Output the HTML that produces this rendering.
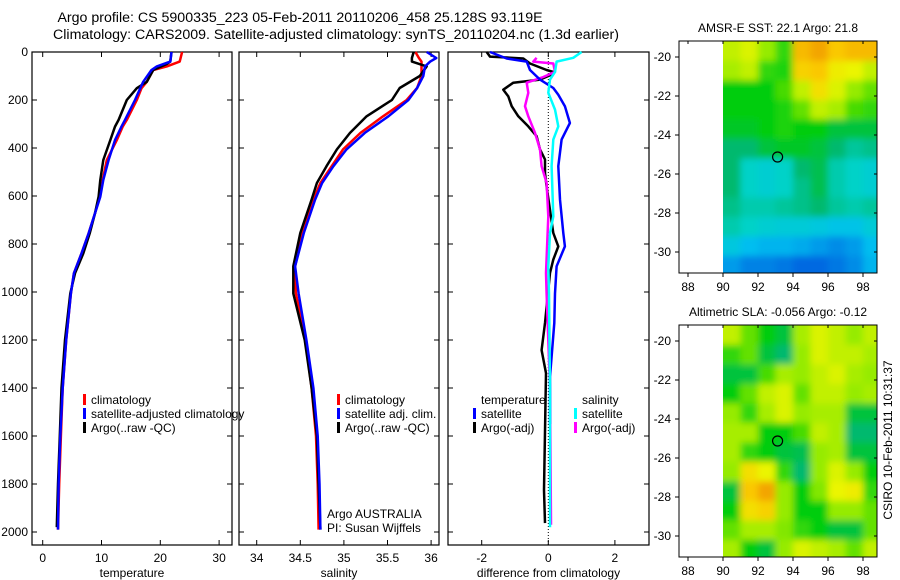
<!DOCTYPE html>
<html><head><meta charset="utf-8">
<style>
html,body{margin:0;padding:0;background:#fff;}
svg{display:block;font-family:"Liberation Sans",sans-serif;}
</style></head>
<body>
<svg id="fig" width="900" height="580" viewBox="0 0 900 580" xmlns="http://www.w3.org/2000/svg">
<defs><filter id="blur" x="-10%" y="-10%" width="120%" height="120%"><feGaussianBlur stdDeviation="3.5"/></filter></defs>
<text x="300" y="22" font-size="14.2" text-anchor="middle">Argo profile: CS 5900335_223 05-Feb-2011 20110206_458 25.128S 93.119E</text>
<text x="336" y="39" font-size="14.2" text-anchor="middle">Climatology: CARS2009. Satellite-adjusted climatology: synTS_20110204.nc (1.3d earlier)</text>
<text x="778" y="32" font-size="12" text-anchor="middle">AMSR-E SST: 22.1 Argo: 21.8</text>
<text x="778" y="316" font-size="12" text-anchor="middle">Altimetric SLA: -0.056 Argo: -0.12</text>
<text x="0" y="0" font-size="12" text-anchor="middle" transform="translate(892,440) rotate(-90)">CSIRO 10-Feb-2011 10:31:37</text>
<g id="plots"></g>
</svg>
<script>
// ---- depth profile data ----
const tDepthArgo = [0,19,40,50,75,124,151,200,283,311,367,450,533,603,672,756,839,922,1006,1200,1400,1600,1800,1980];
const tArgo      = [21.9,21.8,21.7,21.1,18.8,17.7,16.0,14.3,12.9,12.3,11.5,10.3,9.8,9.5,8.9,8.0,6.9,5.5,4.7,3.8,3.2,2.9,2.6,2.4];
const tDepthClim = [0,20,40,60,75,124,151,200,283,311,367,450,533,603,672,756,839,922,1006,1200,1400,1600,1800,1990];
const tClim      = [23.7,23.5,23.3,21.1,18.8,17.7,16.8,16.0,14.3,13.6,12.6,10.9,10.2,9.7,8.9,7.8,6.6,5.3,4.8,4.0,3.4,3.1,2.8,2.6];
const tSat       = [21.9,21.8,21.7,19.4,18.5,17.1,16.6,15.7,14.0,13.4,12.3,11.2,10.3,9.8,8.9,7.8,6.6,5.3,4.8,4.0,3.4,3.0,2.7,2.6];
const sDepth     = [0,25,40,60,100,150,200,268,337,406,476,546,615,754,893,1006,1200,1400,1600,1800,1990];
const sArgo      = [35.80,35.78,35.78,35.95,35.87,35.64,35.55,35.26,35.07,34.92,34.80,34.69,34.63,34.50,34.42,34.42,34.55,34.63,34.69,34.71,34.73];
const sClim      = [35.82,35.86,35.89,35.89,35.89,35.84,35.72,35.45,35.19,34.99,34.86,34.73,34.65,34.52,34.44,34.45,34.56,34.63,34.68,34.70,34.71];
const sSat       = [35.95,36.06,35.99,35.93,35.91,35.84,35.74,35.51,35.24,35.03,34.88,34.75,34.67,34.54,34.44,34.48,34.57,34.65,34.70,34.72,34.73];
const dDepthTS   = [0,27,40,75,115,150,178,226,296,337,365,476,615,754,810,893,1006,1129,1270,1353,1550];
const dTempSat   = [-1.75,-1.25,-0.65,-0.55,-0.25,0.15,0.3,0.5,0.65,0.5,0.4,0.3,0.35,0.45,0.5,0.25,0.2,0.18,0.1,0.05,0.05];
const dDepthTA   = [0,19,27,48,75,83,94,115,128,157,185,226,268,310,351,406,448,504,560,754,810,865,921,1129,1242,1338,1825,1963];
const dTempArgo  = [-1.85,-1.75,-0.75,-0.55,-0.05,0.15,0.1,-0.25,-1.05,-1.35,-1.2,-1.1,-0.9,-0.6,-0.35,-0.25,-0.1,-0.1,-0.05,0.15,0.3,0.15,0.05,-0.1,-0.2,-0.07,-0.13,-0.1];
const dDepthSA   = [24,40,48,83,104,128,170,226,268,337,406,476,546,685,921,1006,1400,1970];
const dSalArgo   = [-0.35,-0.45,0.15,0.2,-0.15,-0.65,-0.6,-0.7,-0.6,-0.4,-0.25,-0.2,-0.05,0.0,-0.07,-0.05,0.05,0.08];
const dDepthSS   = [0,24,40,83,115,170,240,310,365,476,685,754,893,1006,1400,1980];
const dSalSat    = [1.0,0.75,0.25,0.2,0.05,0.0,0.2,0.3,0.15,0.1,0.15,0.05,0.0,0.02,0.05,0.05];
const depthTicks = [0,200,400,600,800,1000,1200,1400,1600,1800,2000];
const tTicks = [0,10,20,30];
const sTicks = [34,34.5,35,35.5,36];
const sTickLabels = ["34","34.5","35","35.5","36"];
const dTicks = [-2,0,2];
// ---- map data (1-degree cells, colour index 0..1) ----
const mapLons = [90,91,92,93,94,95,96,97,98];
const mapLats = [-19.2,-20.2,-21.2,-22.2,-23.2,-24.2,-25.2,-26.2,-27.2,-28.2,-29.2,-30.2];
const sstVals = [
 [0.75,0.78,0.70,0.60,0.92,0.95,0.90,0.92,0.92],
 [0.72,0.75,0.60,0.58,0.88,0.90,0.82,0.80,0.75],
 [0.55,0.55,0.55,0.62,0.75,0.85,0.78,0.70,0.65],
 [0.55,0.55,0.55,0.58,0.65,0.75,0.72,0.62,0.60],
 [0.52,0.52,0.55,0.58,0.55,0.55,0.50,0.50,0.50],
 [0.45,0.45,0.50,0.52,0.52,0.50,0.45,0.40,0.42],
 [0.45,0.35,0.32,0.35,0.45,0.48,0.38,0.35,0.32],
 [0.45,0.35,0.32,0.35,0.42,0.48,0.38,0.35,0.32],
 [0.42,0.38,0.38,0.40,0.42,0.45,0.40,0.38,0.40],
 [0.38,0.35,0.32,0.30,0.30,0.28,0.25,0.25,0.30],
 [0.28,0.22,0.20,0.20,0.18,0.15,0.12,0.15,0.22],
 [0.15,0.10,0.10,0.08,0.05,0.05,0.08,0.12,0.20]];
const slaVals = [
 [0.75,0.65,0.55,0.50,0.72,0.78,0.75,0.70,0.75],
 [0.60,0.65,0.50,0.45,0.70,0.78,0.75,0.75,0.72],
 [0.50,0.50,0.62,0.72,0.70,0.75,0.78,0.72,0.70],
 [0.55,0.65,0.75,0.78,0.65,0.75,0.75,0.70,0.72],
 [0.70,0.60,0.72,0.78,0.70,0.72,0.72,0.50,0.50],
 [0.72,0.72,0.55,0.55,0.62,0.75,0.72,0.45,0.45],
 [0.72,0.60,0.55,0.50,0.48,0.70,0.72,0.50,0.50],
 [0.70,0.85,0.80,0.60,0.45,0.70,0.78,0.70,0.55],
 [0.50,0.90,0.95,0.70,0.55,0.68,0.80,0.82,0.60],
 [0.55,0.85,0.88,0.70,0.55,0.55,0.70,0.70,0.65],
 [0.65,0.72,0.72,0.68,0.60,0.55,0.50,0.50,0.65],
 [0.72,0.55,0.50,0.70,0.78,0.75,0.72,0.65,0.75]];
const argoLon = 93.119, argoLat = -25.128;
const lonTicks = [88,90,92,94,96,98];
const latTicks = [-20,-22,-24,-26,-28,-30];

const NS='http://www.w3.org/2000/svg';
const root=document.getElementById('plots');
function mk(tag,attrs,parent){const e=document.createElementNS(NS,tag);for(const k in attrs)e.setAttribute(k,attrs[k]);(parent||root).appendChild(e);return e;}
const yD = d => 52 + d*0.24;
const xT = t => 42.7 + t*5.88;
const xS = s => 256.7 + (s-34)*87.2;
const xDf = v => 548.3 + v*33.3;

function panel(name,x0,x1,xf,ticks,labels,xlabel,showDepth){
  const g=mk('g',{});
  
  
  mk('rect',{x:x0,y:52,width:x1-x0,height:493,fill:'none',stroke:'#000','stroke-width':1.2},g);
  ticks.forEach((t,i)=>{const x=xf(t);
    mk('line',{x1:x,x2:x,y1:545,y2:540,stroke:'#000'},g);
    mk('line',{x1:x,x2:x,y1:52,y2:57,stroke:'#000'},g);
    const tx=mk('text',{x:x,y:562,'font-size':12,'text-anchor':'middle'},g);tx.textContent=labels[i];
    
    
  });
  depthTicks.forEach(d=>{const y=yD(d);
    mk('line',{x1:x0,x2:x0+5,y1:y,y2:y,stroke:'#000'},g);
    mk('line',{x1:x1,x2:x1-5,y1:y,y2:y,stroke:'#000'},g);
    if(showDepth){const tx=mk('text',{x:x0-4,y:y+4,'font-size':12,'text-anchor':'end'},g);tx.textContent=d;
      
      }
  });
  const xl=mk('text',{x:(x0+x1)/2,y:577,'font-size':12,'text-anchor':'middle'},g);xl.textContent=xlabel;
  
  
  return g;
}
function line(g,name,depths,vals,xf,color,w){
  const pts=depths.map((d,i)=>xf(vals[i]).toFixed(1)+','+yD(d).toFixed(1)).join(' ');
  const p=mk('polyline',{points:pts,fill:'none',stroke:color,'stroke-width':w,'stroke-linejoin':'round'},g);
  
  
}
function legend(g,x,y,items){
  items.forEach((it,i)=>{const yy=y+i*14;
    if(it[1]) mk('rect',{x:x,y:yy-10,width:3,height:11,fill:it[1]},g);
    const t=mk('text',{x:x+8,y:yy,'font-size':12},g);t.textContent=it[0];
    
    
  });
}
// temperature
const g1=panel('temperature-panel',32,232,xT,tTicks,tTicks.map(String),'temperature',true);
line(g1,'temp-climatology',tDepthClim,tClim,xT,'#f00',2.5);
line(g1,'temp-argo',tDepthArgo,tArgo,xT,'#000',2.5);
line(g1,'temp-satellite-adjusted',tDepthClim,tSat,xT,'#00f',2.5);
legend(g1,83,404,[['climatology','#f00'],['satellite-adjusted climatology','#00f'],['Argo(..raw -QC)','#000']]);
// salinity
const g2=panel('salinity-panel',239,439,xS,sTicks,sTickLabels,'salinity',false);
line(g2,'sal-climatology',sDepth,sClim,xS,'#f00',2.5);
line(g2,'sal-argo',sDepth,sArgo,xS,'#000',2.5);
line(g2,'sal-satellite-adjusted',sDepth,sSat,xS,'#00f',2.5);
legend(g2,337,404,[['climatology','#f00'],['satellite adj. clim.','#00f'],['Argo(..raw -QC)','#000']]);
const a1=mk('text',{x:327,y:518,'font-size':12},g2);a1.textContent='Argo AUSTRALIA';


const a2=mk('text',{x:327,y:532,'font-size':12},g2);a2.textContent='PI: Susan Wijffels';


// difference
const g3=panel('difference-panel',448,649,xDf,dTicks,dTicks.map(String),'difference from climatology',false);
mk('line',{x1:xDf(0),x2:xDf(0),y1:52,y2:545,stroke:'#000','stroke-dasharray':'1,2'},g3);
line(g3,'diff-temp-argo',dDepthTA,dTempArgo,xDf,'#000',2.5);
line(g3,'diff-sal-argo',dDepthSA,dSalArgo,xDf,'#f0f',2.5);
line(g3,'diff-temp-satellite',dDepthTS,dTempSat,xDf,'#00f',2.5);
line(g3,'diff-sal-satellite',dDepthSS,dSalSat,xDf,'#0ff',2.5);
legend(g3,473,404,[['temperature',null],['satellite','#00f'],['Argo(-adj)','#000']]);
legend(g3,574,404,[['salinity',null],['satellite','#0ff'],['Argo(-adj)','#f0f']]);

// maps
const cmapStops=[[0,[0,80,220]],[0.22,[0,190,240]],[0.35,[0,210,200]],[0.45,[0,185,110]],[0.55,[0,205,10]],[0.7,[150,235,0]],[0.8,[235,245,0]],[0.9,[250,200,0]],[1,[235,130,0]]];
function cmap(v){for(let i=1;i<cmapStops.length;i++){const a=cmapStops[i-1],b=cmapStops[i];if(v<=b[0]){const f=(v-a[0])/(b[0]-a[0]);const c=a[1].map((c0,k)=>Math.round(c0+(b[1][k]-c0)*f));return `rgb(${c})`;}}return 'rgb(235,130,0)';}
function mapPanel(name,top,vals){
  const bottom=top+232, L=679, R=877;
  const lat0y = top + 16; // -20 y
  const yL = lat => lat0y + (-20-lat)*19.5;
  const xL = lon => 723 + (lon-90)*17.5;
  const g=mk('g',{});
  
  
  const cid='clip'+name;
  const cp=mk('clipPath',{id:cid},g);mk('rect',{x:723,y:top,width:R-723,height:bottom-top},cp);
  const clipG=mk('g',{'clip-path':`url(#${cid})`},g);
  const cells=mk('g',{filter:'url(#blur)'},clipG);
  const nr=mapLats.length, nc=mapLons.length;
  mapLats.forEach((lat,r)=>mapLons.forEach((lon,c)=>{
    let x=xL(lon),y=yL(lat),w=17.5+0.6,h=19.5+0.6;
    if(r===0){y-=15;h+=15;}
    if(r===nr-1){h+=15;}
    if(c===0){x-=15;w+=15;}
    if(c===nc-1){w+=15;}
    const rc=mk('rect',{x:x,y:y,width:w,height:h,fill:cmap(vals[r][c])},cells);
    
    
  }));
  mk('rect',{x:L,y:top,width:R-L,height:bottom-top,fill:'none',stroke:'#000','stroke-width':1},g);
  lonTicks.forEach(t=>{const x=xL(t);mk('line',{x1:x,x2:x,y1:bottom,y2:bottom+4,stroke:'#000'},g);mk('line',{x1:x,x2:x,y1:top,y2:top+3,stroke:'#000'},g);
    const tx=mk('text',{x:x,y:bottom+18,'font-size':12,'text-anchor':'middle'},g);tx.textContent=t;
    
    });
  latTicks.forEach(t=>{const y=yL(t);mk('line',{x1:L-4,x2:L,y1:y,y2:y,stroke:'#000'},g);mk('line',{x1:R,x2:R-3,y1:y,y2:y,stroke:'#000'},g);
    const tx=mk('text',{x:L-8,y:y+4,'font-size':12,'text-anchor':'end'},g);tx.textContent=t;
    
    });
  const m=mk('circle',{cx:xL(argoLon),cy:yL(argoLat),r:5,fill:'none',stroke:'#000','stroke-width':1.2},g);
  
  
}
mapPanel('sst-map',41,sstVals);
mapPanel('sla-map',325,slaVals);
</script>
</body></html>
